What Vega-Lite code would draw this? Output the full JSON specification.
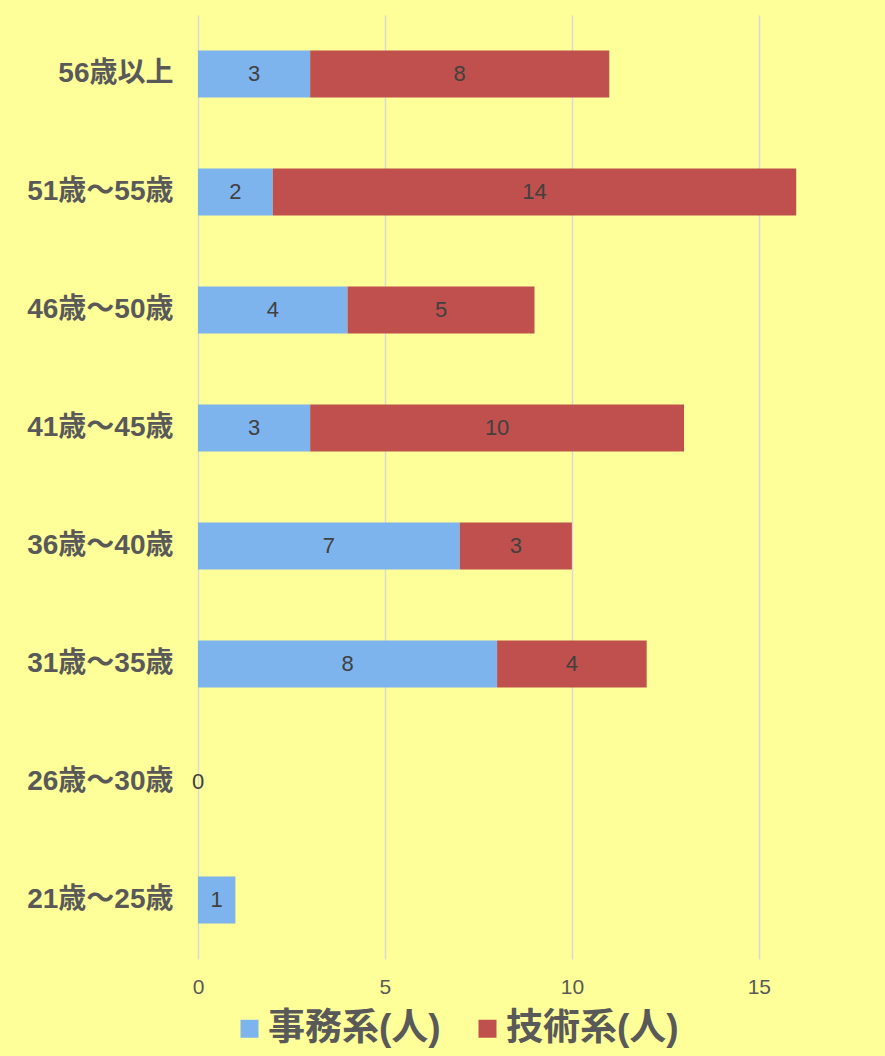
{
  "$schema": "https://vega.github.io/schema/vega-lite/v6.json",
  "autosize": {"type": "none"},
  "padding": {"left": 198, "top": 15, "right": 14, "bottom": 97},
  "width": 673,
  "height": 944,
  "background": "#FFFF99",
  "config": {
    "view": {"stroke": null},
    "font": "Liberation Sans, Noto Sans CJK JP"
  },
  "data": {
    "values": [
      {"age": "56歳以上", "type": "事務系(人)", "n": 3},
      {"age": "56歳以上", "type": "技術系(人)", "n": 8},
      {"age": "51歳～55歳", "type": "事務系(人)", "n": 2},
      {"age": "51歳～55歳", "type": "技術系(人)", "n": 14},
      {"age": "46歳～50歳", "type": "事務系(人)", "n": 4},
      {"age": "46歳～50歳", "type": "技術系(人)", "n": 5},
      {"age": "41歳～45歳", "type": "事務系(人)", "n": 3},
      {"age": "41歳～45歳", "type": "技術系(人)", "n": 10},
      {"age": "36歳～40歳", "type": "事務系(人)", "n": 7},
      {"age": "36歳～40歳", "type": "技術系(人)", "n": 3},
      {"age": "31歳～35歳", "type": "事務系(人)", "n": 8},
      {"age": "31歳～35歳", "type": "技術系(人)", "n": 4},
      {"age": "26歳～30歳", "type": "事務系(人)", "n": 0},
      {"age": "21歳～25歳", "type": "事務系(人)", "n": 1}
    ]
  },
  "transform": [
    {"stack": "n", "groupby": ["age"], "as": ["n0", "n1"], "sort": [{"field": "type", "order": "ascending"}]},
    {"calculate": "(datum.n0 + datum.n1) / 2", "as": "mid"}
  ],
  "encoding": {
    "y": {
      "field": "age",
      "type": "nominal",
      "sort": ["56歳以上", "51歳～55歳", "46歳～50歳", "41歳～45歳", "36歳～40歳", "31歳～35歳", "26歳～30歳", "21歳～25歳"],
      "scale": {"paddingInner": 0.6, "paddingOuter": 0.3},
      "axis": {
        "title": null,
        "domain": false,
        "ticks": false,
        "labelPadding": 25,
        "labelFontSize": 28,
        "labelFontWeight": "bold",
        "labelColor": "#595959",
        "labelLimit": 300
      }
    }
  },
  "layer": [
    {
      "mark": {"type": "bar"},
      "encoding": {
        "x": {
          "field": "n0",
          "type": "quantitative",
          "scale": {"domain": [0, 18], "nice": false},
          "axis": {
            "title": null,
            "values": [0, 5, 10, 15],
            "domain": false,
            "ticks": false,
            "grid": true,
            "gridColor": "#D9D9D9",
            "gridWidth": 1.5,
            "labelFontSize": 21,
            "labelColor": "#595959",
            "labelPadding": 17,
            "labelFlush": false
          }
        },
        "x2": {"field": "n1"},
        "color": {
          "field": "type",
          "type": "nominal",
          "scale": {"domain": ["事務系(人)", "技術系(人)"], "range": ["#7EB4EE", "#C0504D"]},
          "legend": {
            "title": null,
            "orient": "none",
            "direction": "horizontal",
            "legendX": 33,
            "legendY": 995,
            "symbolType": "square",
            "symbolSize": 324,
            "symbolStrokeWidth": 0,
            "labelFontSize": 37,
            "labelFontWeight": "bold",
            "labelColor": "#595959",
            "labelOffset": 0,
            "labelLimit": 400,
            "columnPadding": 28
          }
        }
      }
    },
    {
      "mark": {"type": "text", "fontSize": 22, "color": "#404040", "baseline": "middle", "align": "center"},
      "encoding": {
        "x": {"field": "mid", "type": "quantitative"},
        "text": {"field": "n", "type": "quantitative"}
      }
    }
  ]
}
